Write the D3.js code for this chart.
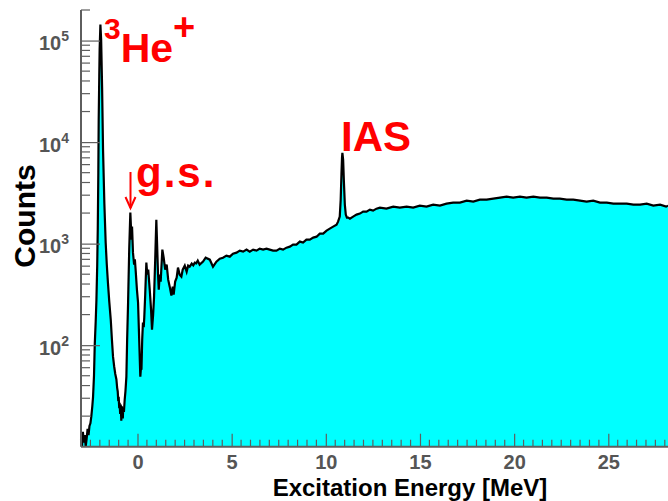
<!DOCTYPE html>
<html><head><meta charset="utf-8">
<script src="https://cdn.jsdelivr.net/npm/d3@7"></script>
<style>body{margin:0;background:#fff}svg{display:block}text{font-family:"Liberation Sans",Arial,sans-serif;font-weight:bold}</style>
</head><body><svg id="c" width="668" height="501"></svg>
<script>
// Excitation energy [MeV]
const energy = [-3.00,-2.95,-2.90,-2.85,-2.80,-2.75,-2.70,-2.65,-2.60,-2.55,-2.50,-2.45,-2.40,-2.36,-2.31,-2.27,-2.22,-2.18,-2.14,-2.11,-2.08,-2.06,-2.03,-2.01,-1.97,-1.93,-1.88,-1.83,-1.76,-1.69,-1.63,-1.57,-1.50,-1.42,-1.36,-1.30,-1.24,-1.18,-1.12,-1.08,-1.05,-1.02,-1.00,-0.97,-0.95,-0.92,-0.89,-0.86,-0.83,-0.81,-0.78,-0.76,-0.72,-0.68,-0.64,-0.59,-0.55,-0.50,-0.44,-0.38,-0.35,-0.33,-0.29,-0.24,-0.18,-0.14,-0.10,-0.03,0.03,0.09,0.15,0.19,0.21,0.25,0.29,0.33,0.36,0.41,0.47,0.52,0.57,0.65,0.72,0.77,0.83,0.88,0.94,1.00,1.05,1.09,1.13,1.18,1.23,1.32,1.39,1.47,1.55,1.63,1.71,1.80,1.87,1.92,2.00,2.08,2.15,2.24,2.33,2.40,2.51,2.61,2.69,2.77,2.88,2.96,3.04,3.12,3.20,3.30,3.48,3.62,3.84,4.01,4.19,4.37,4.54,4.72,4.90,5.07,5.26,5.43,5.61,5.79,5.96,6.14,6.32,6.49,6.67,6.85,7.02,7.20,7.38,7.56,7.73,7.91,8.09,8.26,8.44,8.62,8.79,8.97,9.15,9.33,9.51,9.68,9.86,10.04,10.21,10.39,10.57,10.65,10.74,10.79,10.83,10.86,10.88,10.92,10.96,11.01,11.06,11.12,11.19,11.28,11.45,11.63,11.81,11.98,12.16,12.34,12.51,12.69,12.87,13.22,13.58,13.93,14.29,14.64,14.99,15.35,15.70,16.06,16.41,16.76,17.12,17.48,17.83,18.18,18.54,18.89,19.25,19.60,19.95,20.31,20.66,21.02,21.37,21.73,22.08,22.43,22.79,23.14,23.50,23.85,24.20,24.56,24.92,25.27,25.62,25.98,26.33,26.69,27.04,27.39,27.75,28.07,28.17];
// Counts per bin
const counts = [12,10,14,11,13,10,12,15,13,16,17,20,25,31,50,101,170,281,600,1374,5000,16700,45000,81500,144000,102000,35000,8430,2500,1024,620,413,270,178,115,77,62,52,46,38,35,28,31,24,27,21,26,18,25,22,19,24,22,29,35,49,113,262,873,2020,1500,1094,1470,815,621,700,554,352,262,113,49,62,57,113,167,150,187,315,650,495,554,352,224,142,200,301,695,1720,873,500,352,495,423,873,728,554,621,442,377,308,377,315,423,462,581,495,473,554,607,530,607,593,635,610,650,640,681,621,665,727,695,593,665,711,727,761,744,797,815,853,834,873,834,873,853,893,873,893,873,853,853,893,873,913,934,978,978,1047,1023,1096,1096,1146,1171,1255,1255,1343,1405,1470,1538,1647,1847,2714,4830,7000,7850,6700,4100,2423,1931,1804,1804,1760,1847,1931,1976,2067,2067,2163,2114,2211,2263,2211,2315,2263,2315,2263,2368,2315,2423,2368,2479,2536,2536,2654,2594,2714,2714,2776,2838,2903,2838,2903,2838,2903,2838,2838,2776,2776,2714,2714,2654,2594,2654,2536,2536,2479,2479,2479,2423,2423,2479,2368,2423,2315,2368];
const xMajorTicks = [0,5,10,15,20,25];
const yMajorTicks = [100,1000,10000,100000];
const yTickExponents = ["2","3","4","5"];

const svg = d3.select("#c");
const x = d3.scaleLinear().domain([-3, 28.17]).range([81, 668]);
const y = d3.scaleLog().domain([10, 2e5]).range([446.7, 10]).clamp(true);
const data = energy.map((e,i)=>({e, c: counts[i]}));

const area = d3.area().x(d=>x(d.e)).y0(y(10)).y1(d=>y(d.c));
const line = d3.line().x(d=>x(d.e)).y(d=>y(d.c));
svg.append("path").datum(data).attr("d", area).attr("fill", "#00ffff");
svg.append("path").datum(data).attr("d", line).attr("fill","none").attr("stroke","#000").attr("stroke-width",2.2).attr("stroke-linejoin","miter");

const axisCol = "#5e5e5e";
// x minor ticks
const xMinor = d3.range(-6, 57).map(i=>i*0.5).filter(v=>v>-3 && v<=28.17 && !xMajorTicks.includes(v));
const gx = svg.append("g").attr("transform","translate(0,446.7)");
gx.selectAll("line.minor").data(xMinor).join("line").attr("x1",d=>x(d)).attr("x2",d=>x(d)).attr("y1",0).attr("y2",-7).attr("stroke",axisCol).attr("stroke-width",1.2);
const xAxis = d3.axisBottom(x).tickValues(xMajorTicks).tickSize(-13).tickPadding(8.5).tickFormat(d3.format("d"));
gx.call(xAxis);
gx.select(".domain").attr("stroke",axisCol).attr("stroke-width",2).attr("d","M81,0H668");
gx.selectAll(".tick line").attr("stroke",axisCol).attr("stroke-width",1.2);
gx.selectAll(".tick text").attr("fill","#555").attr("font-size",20).attr("font-family","Liberation Sans, Arial, sans-serif").attr("font-weight","bold");

// y axis
const gy = svg.append("g").attr("transform","translate(81,0)");
const yMinor = [];
[10,100,1000,10000,100000].forEach(d=>{for(let k=2;k<=9;k++){const v=d*k; if(v<=2e5) yMinor.push(v);}});
gy.selectAll("line.minor").data(yMinor).join("line").attr("x1",0).attr("x2",9).attr("y1",d=>y(d)).attr("y2",d=>y(d)).attr("stroke",axisCol).attr("stroke-width",1.2);
const yAxis = d3.axisLeft(y).tickValues(yMajorTicks).tickSize(-19).tickFormat("");
gy.call(yAxis);
gy.select(".domain").attr("stroke",axisCol).attr("stroke-width",2).attr("d","M0,10V446.7");
gy.selectAll(".tick line").attr("stroke",axisCol).attr("stroke-width",1.2);
yMajorTicks.forEach((v,i)=>{
  const t = svg.append("text").attr("x",39).attr("y",y(v)+9.5).attr("fill","#555").attr("font-size",20);
  t.append("tspan").text("10");
  t.append("tspan").attr("dy",-9).attr("font-size",14).text(yTickExponents[i]);
});

// axis titles
svg.append("text").attr("x",410).attr("y",495.5).attr("text-anchor","middle").attr("font-size",24).attr("fill","#000").text("Excitation Energy [MeV]");
svg.append("text").attr("transform","translate(35,216) rotate(-90)").attr("text-anchor","middle").attr("font-size",30).attr("fill","#000").text("Counts");

// annotations
const red = "#ff0000";
const he = svg.append("text").attr("x",104).attr("y",62).attr("fill",red).attr("font-size",41);
he.append("tspan").attr("font-size",30).attr("dy",-23).text("3");
he.append("tspan").attr("dy",23).text("He");
he.append("tspan").attr("font-size",38).attr("dy",-22).text("+");
svg.append("text").attr("x",341).attr("y",151).attr("fill",red).attr("font-size",42).text("IAS");
svg.append("text").attr("x",136).attr("y",187).attr("fill",red).attr("font-size",42).attr("letter-spacing",2).text("g.s.");
svg.append("line").attr("x1",130.5).attr("x2",130.5).attr("y1",172).attr("y2",208).attr("stroke",red).attr("stroke-width",2);
svg.append("path").attr("d","M125.5,197 L130.5,208 L135.5,197").attr("fill","none").attr("stroke",red).attr("stroke-width",2);
</script></body></html>
